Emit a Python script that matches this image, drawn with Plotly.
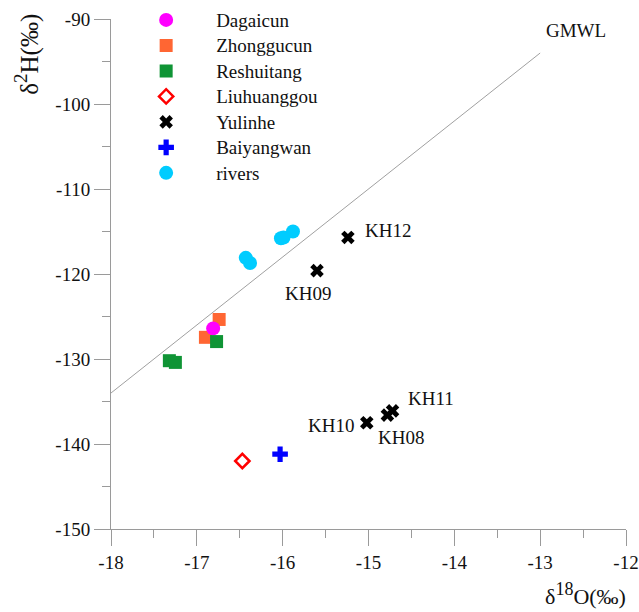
import plotly.graph_objects as go

# Sample groups: delta-18O (x) and delta-2H (y), per mil
dagaicun_x = [-16.81]
dagaicun_y = [-126.4]

zhonggucun_x = [-16.74, -16.90]
zhonggucun_y = [-125.35, -127.45]

reshuitang_x = [-16.77, -17.32, -17.25]
reshuitang_y = [-127.95, -130.2, -130.4]

liuhuanggou_x = [-16.47]
liuhuanggou_y = [-142.0]

yulinhe_names = ["KH12", "KH09", "KH10", "KH08", "KH11"]
yulinhe_x = [-15.24, -15.60, -15.02, -14.78, -14.72]
yulinhe_y = [-115.7, -119.6, -137.5, -136.6, -136.1]

baiyangwan_x = [-16.03]
baiyangwan_y = [-141.2]

rivers_x = [-16.43, -16.38, -16.02, -15.99, -15.88]
rivers_y = [-118.1, -118.7, -115.8, -115.7, -115.0]

# Global meteoric water line: dH = 8 * d18O + 10
gmwl_x = [-18.0, -13.0]
gmwl_y = [8 * v + 10 for v in gmwl_x]

# Axis ticks (plain hyphen minus in the labels)
x_ticks = [-18, -17, -16, -15, -14, -13, -12]
x_ticktext = ["-18", "-17", "-16", "-15", "-14", "-13", "-12"]
y_ticks = [-150, -140, -130, -120, -110, -100, -90]
y_ticktext = ["-150", "-140", "-130", "-120", "-110", "-100", "-90"]

FONT = "Times New Roman, Liberation Serif, serif"
AXIS_GRAY = "#9a9a9a"
TEXT = "#111111"


def legend_label(text):
    # legend rows are spaced by a smaller legend font; the label itself is 19px
    return f"<span style='font-size:19px'>{text}</span>"


fig = go.Figure()

fig.add_trace(go.Scatter(
    x=gmwl_x, y=gmwl_y, mode="lines", showlegend=False,
    line=dict(color="#a0a0a0", width=1), hoverinfo="skip"))

# drawing order: orange squares, then the magenta circle, then the rest;
# legendrank keeps the legend order independent of drawing order
fig.add_trace(go.Scatter(
    x=zhonggucun_x, y=zhonggucun_y, mode="markers", name=legend_label("Zhonggucun"),
    legendrank=2,
    marker=dict(symbol="square", size=13, color="#ff6633")))
fig.add_trace(go.Scatter(
    x=dagaicun_x, y=dagaicun_y, mode="markers", name=legend_label("Dagaicun"),
    legendrank=1,
    marker=dict(symbol="circle", size=14, color="#ff00ff")))
fig.add_trace(go.Scatter(
    x=reshuitang_x, y=reshuitang_y, mode="markers", name=legend_label("Reshuitang"),
    legendrank=3,
    marker=dict(symbol="square", size=13, color="#0f9435")))
fig.add_trace(go.Scatter(
    x=liuhuanggou_x, y=liuhuanggou_y, mode="markers", name=legend_label("Liuhuanggou"),
    legendrank=4,
    marker=dict(symbol="diamond-open", size=11, color="#ff0000",
                line=dict(width=2.5, color="#ff0000"))))
fig.add_trace(go.Scatter(
    x=yulinhe_x, y=yulinhe_y, mode="markers", name=legend_label("Yulinhe"),
    legendrank=5,
    marker=dict(symbol="x", size=12, color="#000000")))
fig.add_trace(go.Scatter(
    x=baiyangwan_x, y=baiyangwan_y, mode="markers", name=legend_label("Baiyangwan"),
    legendrank=6,
    marker=dict(symbol="cross", size=13, color="#0000ff")))
fig.add_trace(go.Scatter(
    x=rivers_x, y=rivers_y, mode="markers", name=legend_label("rivers"),
    legendrank=7,
    marker=dict(symbol="circle", size=14, color="#00ccff")))

# Sample labels for the Yulinhe wells (pixel offsets from each marker)
label_offsets = {
    "KH12": (40, -7),
    "KH09": (-9, 23),
    "KH10": (-36, 3),
    "KH08": (14, 22),
    "KH11": (38, -12),
}
for name, xv, yv in zip(yulinhe_names, yulinhe_x, yulinhe_y):
    dx, dy = label_offsets[name]
    fig.add_annotation(x=xv, y=yv, text=name, showarrow=False,
                       xshift=dx, yshift=-dy,
                       font=dict(family=FONT, size=19, color=TEXT))

fig.add_annotation(x=-12.58, y=-91.3, text="GMWL", showarrow=False,
                   font=dict(family=FONT, size=19, color=TEXT))

# Axis titles
fig.add_annotation(xref="paper", yref="paper", x=-0.163, y=0.93,
                   xanchor="center", yanchor="middle",
                   text="δ<sup><span style='font-size:19px'>2</span></sup>H(‰)",
                   showarrow=False, textangle=-90,
                   font=dict(family=FONT, size=25, color=TEXT))
fig.add_annotation(xref="paper", yref="paper", x=0.922, y=-0.128,
                   xanchor="center", yanchor="middle",
                   text="δ<sup><span style='font-size:18px'>18</span></sup>O(‰)",
                   showarrow=False,
                   font=dict(family=FONT, size=22, color=TEXT))

axis_common = dict(
    showline=True, linecolor=AXIS_GRAY, linewidth=1,
    ticks="outside", ticklen=16, tickcolor=AXIS_GRAY, tickwidth=1,
    showgrid=False, zeroline=False, mirror=False,
    tickfont=dict(family=FONT, size=19, color=TEXT),
)

fig.update_xaxes(range=[-18, -12], tickmode="array",
                 tickvals=x_ticks, ticktext=x_ticktext,
                 minor=dict(dtick=0.5, tick0=-18, ticks="outside", ticklen=8,
                            tickcolor=AXIS_GRAY, showgrid=False),
                 **axis_common)
fig.update_yaxes(range=[-150, -90], tickmode="array",
                 tickvals=y_ticks, ticktext=y_ticktext,
                 minor=dict(dtick=5, tick0=-150, ticks="outside", ticklen=8,
                            tickcolor=AXIS_GRAY, showgrid=False),
                 **axis_common)

fig.update_layout(
    width=639, height=612,
    margin=dict(l=111, r=13, t=19, b=83, autoexpand=False),
    paper_bgcolor="white", plot_bgcolor="white",
    font=dict(family=FONT, size=19, color=TEXT),
    legend=dict(x=0.01, y=1.033, xanchor="left", yanchor="top",
                bgcolor="rgba(0,0,0,0)", itemwidth=90,
                traceorder="normal",
                font=dict(family=FONT, size=17.3, color=TEXT)),
)

fig.write_html("out.html")
